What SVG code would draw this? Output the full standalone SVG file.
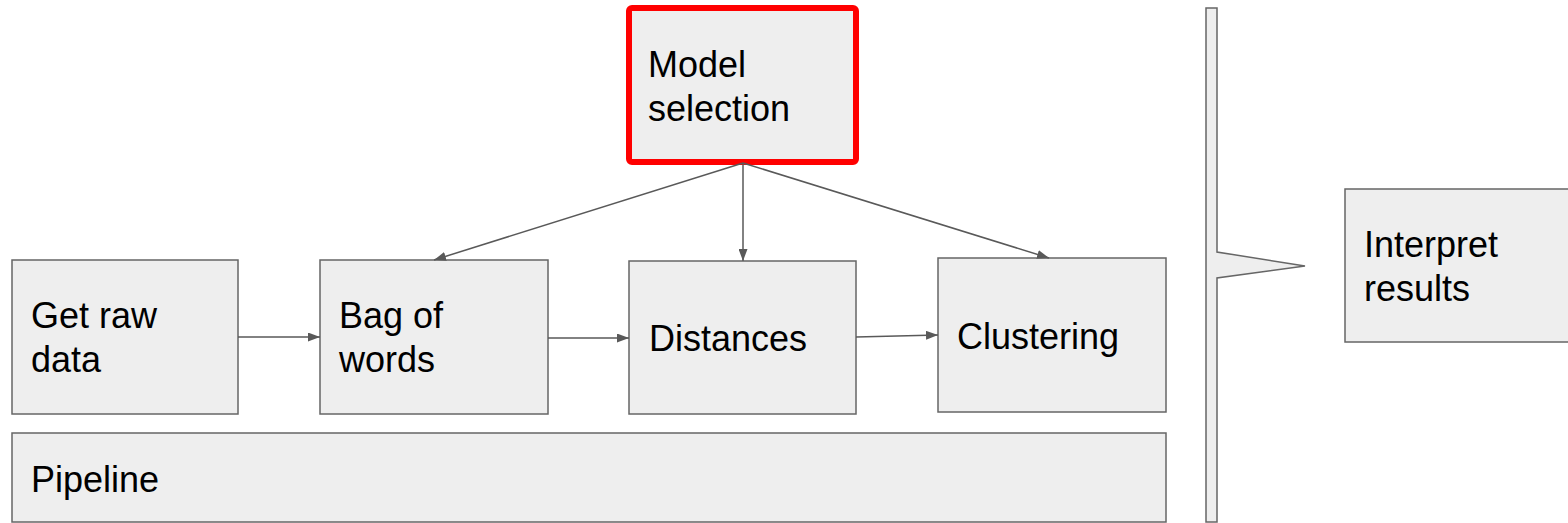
<svg xmlns="http://www.w3.org/2000/svg" width="1568" height="523" viewBox="0 0 1568 523">
  <style>
    .box { fill: #eeeeee; stroke: #666666; stroke-width: 1.5; }
    .hl { fill: #eeeeee; stroke: #ff0000; stroke-width: 6; }
    .lbl { font-family: "Liberation Sans", Arial, sans-serif; font-size: 36px; fill: #000000; }
    .edge { fill: none; stroke: #595959; stroke-width: 1.5; marker-end: url(#arrow); }
  </style>
  <defs>
    <marker id="arrow" viewBox="0 0 12 9" refX="12" refY="4.5" markerWidth="12" markerHeight="9" markerUnits="userSpaceOnUse" orient="auto">
      <path d="M0,0 L12,4.5 L0,9 z" fill="#595959"/>
    </marker>
  </defs>
  <rect width="1568" height="523" fill="#ffffff"/>

  <g id="model-selection">
    <rect class="hl" x="629" y="8" width="227" height="154" rx="3"/>
    <text class="lbl" x="648" y="77">Model</text>
    <text class="lbl" x="648" y="121">selection</text>
  </g>

  <g id="get-raw-data">
    <rect class="box" x="12" y="260" width="226" height="154"/>
    <text class="lbl" x="31" y="328">Get raw</text>
    <text class="lbl" x="31" y="372">data</text>
  </g>

  <g id="bag-of-words">
    <rect class="box" x="320" y="260" width="228" height="154"/>
    <text class="lbl" x="339" y="328">Bag of</text>
    <text class="lbl" x="339" y="372">words</text>
  </g>

  <g id="distances">
    <rect class="box" x="629" y="261" width="227" height="153"/>
    <text class="lbl" x="649" y="351">Distances</text>
  </g>

  <g id="clustering">
    <rect class="box" x="938" y="258" width="228" height="154"/>
    <text class="lbl" x="957" y="349">Clustering</text>
  </g>

  <g id="pipeline">
    <rect class="box" x="12" y="433" width="1154" height="89"/>
    <text class="lbl" x="31" y="492">Pipeline</text>
  </g>

  <g id="bracket">
    <path class="box" d="M1206,8 L1217,8 L1217,252 L1305,266 L1217,278 L1217,522 L1206,522 Z"/>
  </g>

  <g id="interpret-results">
    <rect class="box" x="1345" y="189" width="240" height="153"/>
    <text class="lbl" x="1364" y="257">Interpret</text>
    <text class="lbl" x="1364" y="301">results</text>
  </g>

  <g id="connectors">
    <line class="edge" x1="238" y1="337" x2="320" y2="337"/>
    <line class="edge" x1="548" y1="338" x2="629" y2="338"/>
    <line class="edge" x1="856" y1="337" x2="938" y2="335"/>
    <line class="edge" x1="743" y1="163" x2="743" y2="261"/>
    <line class="edge" x1="743" y1="163" x2="434" y2="260"/>
    <line class="edge" x1="743" y1="163" x2="1049" y2="258"/>
  </g>
</svg>
